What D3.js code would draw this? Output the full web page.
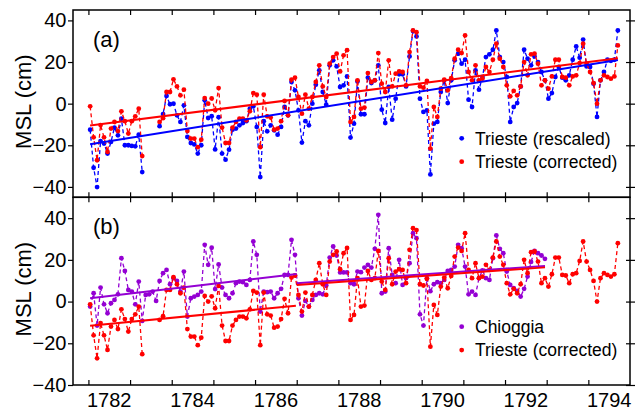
<!DOCTYPE html>
<html>
<head>
<meta charset="utf-8">
<script src="https://cdn.jsdelivr.net/npm/d3@7"></script>
<style>
body { margin: 0; background: #fff; }
text { font-family: "Liberation Sans", Arial, sans-serif; fill: #000; }
</style>
</head>
<body>
<svg id="canvas"></svg>
<script>
// monthly values (cm), first value = Jan 1782, null = missing month
const triesteCorrected = [
  -1.3, -16.2, -27.2, -10.3, -16.2, -23.2, -12, -8.8, -13.2, -3.7, -8.4, -14.4,
  -8.4, -6.1, -2.4, -25.2, null, null, null, null, -8.8, -7, 5.6, 5.6,
  11.7, 8.3, 4, 6.7, -13.2, -16.8, -16.8, -20.9, -17.3, 2.7, 0, 2.5,
  -3.2, 7.5, -11.5, -18.9, -18.9, -11.5, -8.8, -7.2, -7.2, -8, -3.7, 5.1,
  4.3, -20.9, 4.3, -6.1, -6.7, -12.5, -12, -8.4, 1.3, -5.6, 11.5, 12.5,
  3.2, -4.8, 4.3, -2.4, 3.2, 10.4, 18.4, 8.3, 3.2, 19.2, 22.4, 24,
  15.5, 23.2, 25.7, -8.8, -6.4, 11.2, -2.4, -1.9, 14.7, 10.4, 11.2, 24.3,
  9.6, 5.6, 20.8, 8.3, 14.4, 15.5, 15.2, 8.8, 24.8, 35.2, 34.3, 8.3,
  7.7, 10.9, -21.6, -1.6, -6.4, 7.2, 11.5, 6.4, 12.3, 21.6, 25.9, 24.3,
  32.8, 15.2, 11.2, 18.4, 11.2, 12, 17.6, 15.2, 21.1, 28.8, 21.6, 17.6,
  8.8, 3.5, 6.1, 4, 8.3, 20, 13.6, 23.7, 24, 19.2, 8.8, 11.2,
  7.2, 13.1, 21.1, 21.1, 12.8, 12.5, 8.8, 13.1, 13.6, 19.5, 28.8, 19.2,
  15.2, 9.9, 0, 11.2, 13.6, 12.8, 12, 13.1, 28
]
const triesteRescaled = [
  -12.5, -30.8, -40.1, -18, -19.2, -24, -18.4, -11.5, -15.2, -7.2, -20, -20,
  -20.3, -20.5, -14.9, -32.9, null, null, null, null, -10.8, -5, 3.7, -0.3,
  0, -5.6, -8.8, -0.8, -16, -18.9, -19.6, -24, -20, 1.6, -6.9, -6,
  -22, -6.5, -24, -26.9, -22.1, -12.5, -12, -10.4, -9.3, -8.4, -2.4, -1.3,
  -11.2, -35.3, -8.4, -13.3, -10.4, -12.8, -14.9, -11.2, -1.6, -5.6, 10.4, 6.4,
  -3.2, -18.7, -8.4, -10.4, 0, 9.1, 16, 5.6, -0.5, 18.4, 20.8, 17.9,
  8, 8.8, 13.1, -16.3, -9.6, 10.7, -5.1, -5.1, 12.5, 9.9, 11.2, 18.4,
  -2.9, -9.3, 8, -7.7, 2.4, 14.1, 14.1, 8.3, 22.7, 34.9, 32.3, 2.4,
  -4, -3.2, -34, -9.6, -8.8, 5.6, 11.2, 0.3, 11.2, 20.8, 24, 19.2,
  21.1, 1.9, -1.6, 16, 6.7, 12.8, 22.4, 23.7, 25.9, 35.2, 22.4, 20,
  12.8, -8.8, -1.6, 0.3, 8.3, 25.9, 21.6, 18.4, 22.7, 20, 15.2, 11.2,
  2.4, 5.1, 12.8, 17.6, 12.5, 11.2, 13.6, 21.1, 27.5, 22.1, 30.8, 17.9,
  17.6, 9.6, -6.4, 11.2, 15.2, 21.1, 20.6, 21.1, 35.2
]
const chioggia = [
  -2.4, 4, -11.5, 6.7, -1.3, -5.6, -0.8, 0.8, 3.5, 20.8, 14.7, 5.6,
  4.8, -1.3, 9.6, -9.3, 3.2, 3.5, 4.8, 0.3, 9.9, 13.6, 15.2, 8.3,
  11.2, 9.9, 4.8, 14.4, -7.2, 1.6, 2.4, 3.2, 4.8, 27.2, 17.6, 25.8,
  6, 17.8, 6.7, 3.2, 1.6, 4, 8.8, 9.6, 9.3, 8, 10.4, 28.8,
  22.4, -4.8, 4.8, 4.5, 4.8, 1.6, 4, 6.1, 12.8, 12.8, 29.6, 22.4,
  1.6, -6.7, 0.3, -2.4, 0.8, 3.2, 4, 3.5, 7.7, 21.1, 26.4, 22.1,
  14, 14, 14, 8.8, 8.3, 14.4, 14.1, 16.3, 17.6, 16.3, 25.3, 41.6,
  4, 4.8, 25.6, 12.8, 8.8, 20, 8, 11.2, 18.4, 32.8, 30.4, -6.1,
  -11.5, 11.2, 5, 8.3, 9.3, 8.8, 10.4, 14.7, 15.2, 16.8, 27.2, 25.6,
  16.8, 3.5, 4.8, 3.2, 11.2, 15, 11.2, 10.4, 20.8, 31.7, 25.3, 23.2,
  14.4, 8, 6.4, 5.1, 2.4, 6.1, 12, 19, 24.3, 23.2, 22.1, 20.5
]

// linear trends: [start year, start value, end year, end value]
const trendRescaled = [[1782.04, -19.5, 1794.71, 21]]
const trendCorrectedA = [[1782.04, -10.5, 1794.71, 21.8]]
const trendChioggia = [[1782.04, 1.6, 1787.0, 13.2], [1787.0, 8.8, 1792.96, 17.1]]
const trendCorrectedB = [[1782.04, -11.6, 1786.98, -2], [1787.0, 8, 1792.96, 16.4]]

const yTicks = [-40, -20, 0, 20, 40]
const xTickYears = [1782, 1783, 1784, 1785, 1786, 1787, 1788, 1789, 1790, 1791, 1792, 1793, 1794]
const xLabelYears = [1782, 1784, 1786, 1788, 1790, 1792, 1794]

let width = 635,
height = 411

let blue = '#0000ff', red = '#ff0000', purple = '#9400d3'

let svg = d3.select('#canvas')
.attr('width', width)
.attr('height', height)

let x = d3.scaleLinear().domain([1781.63, 1795]).range([73, 630])

let monthTime = i => 1782 + (i + 0.5) / 12
let toPoints = arr => arr.map((v, i) => ({t: monthTime(i), v: v}))

let panels = [
  {
    tag: '(a)', top: 10, bottom: 197.3, domain: [-45, 45],
    series: [{data: triesteRescaled, color: blue}, {data: triesteCorrected, color: red}],
    trends: [{data: trendRescaled, color: blue}, {data: trendCorrectedA, color: red}],
    legend: [{label: 'Trieste (rescaled)', color: blue}, {label: 'Trieste (corrected)', color: red}],
    legendY: 138.3
  },
  {
    tag: '(b)', top: 197.3, bottom: 385, domain: [-40, 50],
    series: [{data: chioggia, color: purple}, {data: triesteCorrected, color: red}],
    trends: [{data: trendChioggia, color: purple}, {data: trendCorrectedB, color: red}],
    legend: [{label: 'Chioggia', color: purple}, {label: 'Trieste (corrected)', color: red}],
    legendY: 326.7
  }
]

let drawPanel = p => {
  let y = d3.scaleLinear().domain(p.domain).range([p.bottom, p.top])
  let g = svg.append('g')

  let line = d3.line()
  .defined(d => d.v != null)
  .x(d => x(d.t))
  .y(d => y(d.v))

  p.series.forEach(s => {
    let pts = toPoints(s.data)
    g.append('path')
    .attr('d', line(pts))
    .attr('fill', 'none')
    .attr('stroke', s.color)
    .attr('stroke-width', 1.3)
    .attr('stroke-dasharray', '4,3')

    g.selectAll(null)
    .data(pts.filter(d => d.v != null))
    .enter().append('circle')
    .attr('cx', d => x(d.t))
    .attr('cy', d => y(d.v))
    .attr('r', 2.4)
    .attr('fill', s.color)
  })

  p.trends.forEach(tr => {
    g.selectAll(null)
    .data(tr.data)
    .enter().append('line')
    .attr('x1', d => x(d[0]))
    .attr('y1', d => y(d[1]))
    .attr('x2', d => x(d[2]))
    .attr('y2', d => y(d[3]))
    .attr('stroke', tr.color)
    .attr('stroke-width', 2)
  })

  // frame and ticks
  g.append('rect')
  .attr('x', x.range()[0])
  .attr('y', p.top)
  .attr('width', x.range()[1] - x.range()[0])
  .attr('height', p.bottom - p.top)
  .attr('fill', 'none')
  .attr('stroke', '#000')
  .attr('stroke-width', 1.5)

  let left = g.append('g')
  .attr('transform', `translate(${x.range()[0]},0)`)
  .call(d3.axisLeft(y).tickValues(yTicks).tickSize(5).tickSizeOuter(0).tickPadding(1.5))
  left.select('.domain').remove()
  left.selectAll('text').style('font-size', '20px').attr('fill', '#000')

  let rightAx = g.append('g')
  .attr('transform', `translate(${x.range()[1] - 4},0)`)
  .call(d3.axisRight(y).tickValues(yTicks).tickSize(9).tickSizeOuter(0).tickFormat(''))
  rightAx.select('.domain').remove()

  let topAx = g.append('g')
  .attr('transform', `translate(0,${p.top})`)
  .call(d3.axisTop(x).tickValues(xTickYears).tickSize(-5).tickSizeOuter(0).tickFormat(''))
  topAx.select('.domain').remove()

  let botAx = g.append('g')
  .attr('transform', `translate(0,${p.bottom})`)
  .call(d3.axisBottom(x).tickValues(xTickYears).tickSize(-5).tickSizeOuter(0).tickFormat(''))
  botAx.select('.domain').remove()

  g.selectAll('.tick line').attr('stroke', '#000').attr('stroke-width', 1.2)

  g.append('text')
  .attr('x', 93)
  .attr('y', p.top + 37)
  .style('font-size', '22px')
  .text(p.tag)

  g.append('text')
  .attr('transform', `translate(30.5,${(p.top + p.bottom) / 2 - 2}) rotate(-90)`)
  .attr('text-anchor', 'middle')
  .style('font-size', '22px')
  .text('MSL (cm)')

  p.legend.forEach((l, i) => {
    let ly = p.legendY + i * 23.4
    g.append('circle')
    .attr('cx', 461.7)
    .attr('cy', ly)
    .attr('r', 2.4)
    .attr('fill', l.color)
    g.append('text')
    .attr('x', 475)
    .attr('y', ly + 6.2)
    .style('font-size', '17.5px')
    .text(l.label)
  })
}

panels.forEach(drawPanel)

svg.selectAll(null)
.data(xLabelYears)
.enter().append('text')
.attr('x', d => x(d + 0.5))
.attr('y', 406.5)
.attr('text-anchor', 'middle')
.style('font-size', '20px')
.text(d => d)
</script>
</body>
</html>
